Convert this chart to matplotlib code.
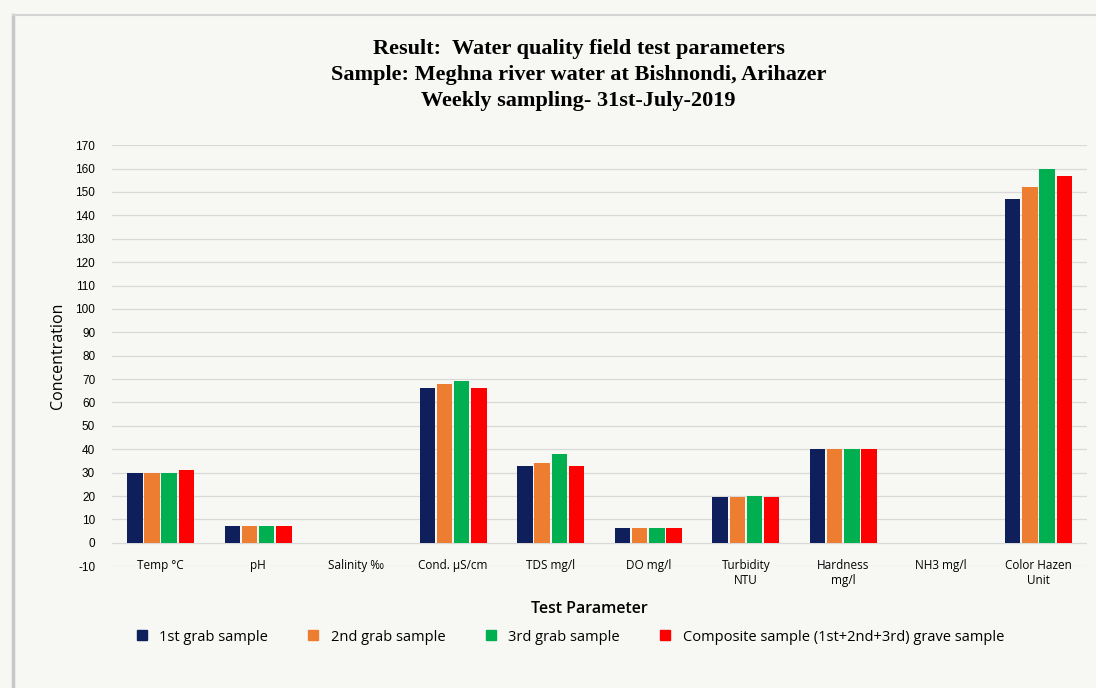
import matplotlib
matplotlib.use("Agg")
import matplotlib.pyplot as plt
import numpy as np
from matplotlib.lines import Line2D

categories = ["Temp °C", "pH", "Salinity ‰", "Cond. µS/cm", "TDS mg/l", "DO mg/l",
              "Turbidity\nNTU", "Hardness\nmg/l", "NH3 mg/l", "Color Hazen\nUnit"]
series_names = ["1st grab sample", "2nd grab sample", "3rd grab sample",
                "Composite sample (1st+2nd+3rd) grave sample"]
grab1 = [30, 7.4, 0, 66, 33, 6.5, 19.5, 40, 0, 147]
grab2 = [30, 7.4, 0, 68, 34, 6.5, 19.5, 40, 0, 152]
grab3 = [30, 7.4, 0, 69, 38, 6.5, 20, 40, 0, 160]
composite = [31, 7.4, 0, 66, 33, 6.5, 19.5, 40, 0, 157]
colors = ["#0E1F5B", "#ED7D31", "#00B050", "#FF0000"]
yticks = list(range(-10, 171, 10))

fig = plt.figure(figsize=(10.96, 6.88), dpi=100)
fig.patch.set_facecolor("#F7F7F4")
ax = fig.add_axes([0.102, 0.177, 0.89, 0.612])
ax.set_facecolor("#F7F7F4")

x = np.arange(len(categories))
width = 0.158
step = 0.176
for i, (vals, name) in enumerate(zip([grab1, grab2, grab3, composite], series_names)):
    ax.bar(x + (i - 1.5) * step, vals, width, color=colors[i], label=name, zorder=3)

ax.set_ylim(-10, 170)
ax.set_xlim(-0.5, len(categories) - 0.5)
ax.set_yticks(yticks)
ax.set_yticklabels([str(t) for t in yticks], fontsize=8.5, family="Liberation Sans")
ax.set_xticks(x)
ax.set_xticklabels(categories, fontsize=8.5, family="Open Sans")
ax.tick_params(axis="x", length=0, pad=-5)
ax.tick_params(axis="y", length=0, pad=12)
ax.grid(axis="y", color="#D9D9D9", linewidth=0.9, zorder=0)
for s in ax.spines.values():
    s.set_visible(False)

ax.set_ylabel("Concentration", fontsize=11.5, family="Open Sans", labelpad=7)
fig.text(0.538, 0.115, "Test Parameter", ha="center", va="center", fontsize=11.5,
         family="Open Sans", fontweight="semibold")

title = ("Result:  Water quality field test parameters\n"
         "Sample: Meghna river water at Bishnondi, Arihazer\n"
         "Weekly sampling- 31st-July-2019")
fig.text(0.528, 0.891, title, ha="center", va="center", fontsize=16,
         family="Liberation Serif", fontweight="bold", linespacing=1.4)

handles = [Line2D([], [], marker="s", linestyle="none", markersize=7, color=c) for c in colors]
fig.legend(handles, series_names, loc="center", bbox_to_anchor=(0.516, 0.074), ncol=4,
           frameon=False, prop={"family": "Open Sans", "size": 10.5},
           handletextpad=0.2, columnspacing=2.1)

fig.add_artist(Line2D([0.012, 0.012], [0.0, 0.978], transform=fig.transFigure,
                      color="#C8C8C8", linewidth=2.5))
fig.add_artist(Line2D([0.012, 1.0], [0.978, 0.978], transform=fig.transFigure,
                      color="#D4D4D4", linewidth=1.5))

fig.savefig("out.png", dpi=100, facecolor=fig.get_facecolor())
